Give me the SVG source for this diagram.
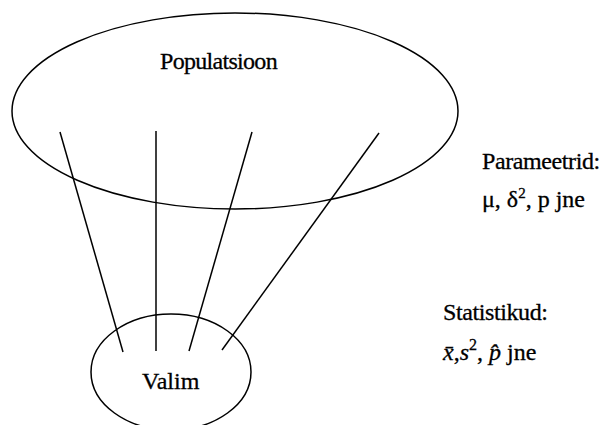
<svg xmlns="http://www.w3.org/2000/svg" width="600" height="425" viewBox="0 0 600 425">
<style>
.sh{fill:none;stroke:#000;stroke-width:1.5}
.ln{stroke:#000;stroke-width:1.5}
.t{font-family:"Liberation Serif","Tinos","Noto Serif","DejaVu Serif","FreeSerif","Times New Roman",Times,serif;fill:#000;stroke:#000;stroke-width:0.3;font-size:24px}
.it{font-style:italic}
</style>
<rect width="600" height="425" fill="#fff"/>
<g id="populatsioon">
<ellipse class="sh" cx="235" cy="111" rx="223" ry="98"/>
<text class="t" x="160" y="69" letter-spacing="-0.7">Populatsioon</text>
</g>
<g id="valim">
<ellipse class="sh" cx="171" cy="372" rx="80" ry="58"/>
<text class="t" x="142" y="389">Valim</text>
</g>
<g id="connectors">
<line class="ln" x1="60" y1="132" x2="123" y2="352"/>
<line class="ln" x1="156" y1="131" x2="156" y2="351"/>
<line class="ln" x1="252" y1="132" x2="189" y2="351"/>
<line class="ln" x1="379" y1="133" x2="222" y2="350"/>
</g>
<g id="parameetrid">
<text class="t" x="482" y="169" font-size="23" letter-spacing="-0.4">Parameetrid:</text>
<text class="t" x="482" y="207">μ, δ<tspan dy="-9" font-size="15">2</tspan><tspan dy="9">, p jne</tspan></text>
</g>
<g id="statistikud">
<text class="t" x="443" y="320" font-size="23" letter-spacing="-0.4">Statistikud:</text>
<text class="t" x="443" y="360"><tspan class="it">x̄</tspan>,<tspan class="it">s</tspan><tspan dy="-10" font-size="16">2</tspan><tspan dy="10">, </tspan><tspan class="it">p̂</tspan> jne</text>
</g>
</svg>
